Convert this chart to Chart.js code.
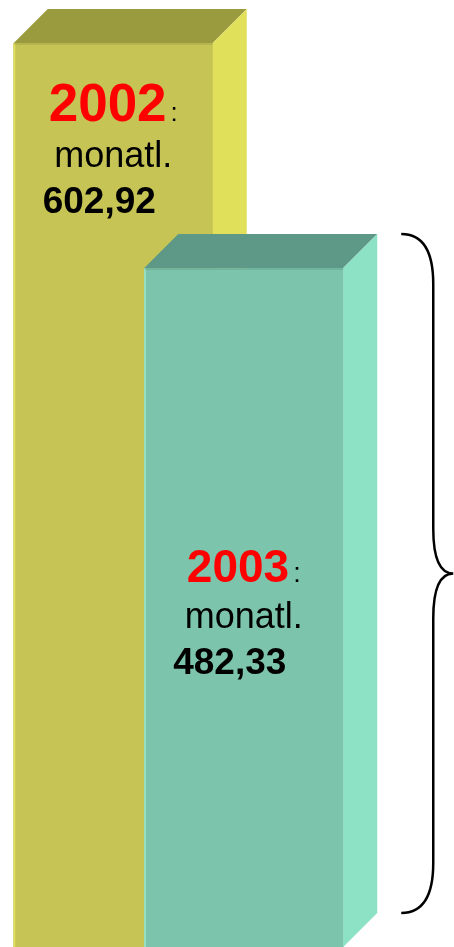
<!DOCTYPE html>
<html>
<head>
<meta charset="utf-8">
<script src="https://cdn.jsdelivr.net/npm/chart.js@4"></script>
<style>
  html, body { margin: 0; padding: 0; background: #ffffff; }
  #wrap { width: 454px; height: 947px; position: relative; }
</style>
</head>
<body>
<div id="wrap"><canvas id="chart"></canvas></div>
<script>
// Monatliche Beträge
const years = ['2002', '2003'];
const monthly = [602.92, 482.33];
const periodLabel = 'monatl.';

// visible value range of the (hidden) y axis
const yMin = 118.5;
const yMax = 626;

// face colours per bar
const frontColors = ['#C6C454', '#7CC5AC'];
const sideColors = ['#E1E05A', '#8DE2C6'];
const topColors = ['#9A9A3F', '#5E9886'];
const edgeColors = ['#E1E05A', '#9FE6CE'];

const fmt = v => v.toFixed(2).replace('.', ',');

// draws the 3D bars (front, top, side), the labels and the brace
const bar3d = {
    id: 'bar3d',
    afterDatasetsDraw(chart, args, opts) {
        const ctx = chart.ctx;
        const meta = chart.getDatasetMeta(0);
        const d = opts.depth;

        meta.data.forEach((bar, i) => {
            const { x, y, width, base } = bar.getProps(['x', 'y', 'width', 'base'], true);
            const l = x - width / 2;
            const r = x + width / 2;

            ctx.save();
            // front
            ctx.fillStyle = frontColors[i];
            ctx.fillRect(l, y, width, base - y);
            // light left edge
            ctx.fillStyle = edgeColors[i];
            ctx.fillRect(l, y, 1.5, base - y);
            // top
            ctx.fillStyle = topColors[i];
            ctx.beginPath();
            ctx.moveTo(l, y);
            ctx.lineTo(l + d, y - d);
            ctx.lineTo(r + d, y - d);
            ctx.lineTo(r, y);
            ctx.closePath();
            ctx.fill();
            // side
            ctx.fillStyle = sideColors[i];
            ctx.beginPath();
            ctx.moveTo(r, y);
            ctx.lineTo(r + d, y - d);
            ctx.lineTo(r + d, base - d);
            ctx.lineTo(r, base);
            ctx.closePath();
            ctx.fill();
            // slight edge between front and top
            ctx.strokeStyle = 'rgba(0,0,0,0.08)';
            ctx.lineWidth = 2;
            ctx.beginPath();
            ctx.moveTo(l, y + 1);
            ctx.lineTo(r, y + 1);
            ctx.stroke();

            // labels
            const mid = opts.anchor[i] === 'top' ? y + opts.offset[i] : (y + base) / 2 + opts.offset[i];
            const gap = opts.lineGap;
            ctx.textBaseline = 'alphabetic';
            ctx.textAlign = 'left';

            // year + colon
            const yearFont = 'bold ' + opts.yearSize[i] + 'px "Liberation Sans", Arial, sans-serif';
            const colonFont = opts.colonSize[i] + 'px "Liberation Sans", Arial, sans-serif';
            ctx.font = yearFont;
            const wYear = ctx.measureText(years[i]).width;
            ctx.font = colonFont;
            const wColon = ctx.measureText(':').width;
            let sx = x - (wYear + 4 + wColon) / 2;
            ctx.font = yearFont;
            ctx.fillStyle = '#FF0000';
            ctx.fillText(years[i], sx, mid - gap);
            ctx.font = colonFont;
            ctx.fillStyle = '#000000';
            ctx.fillText(':', sx + wYear + 4, mid - gap);

            // "monatl."
            ctx.textAlign = 'center';
            ctx.font = '36px "Liberation Sans", Arial, sans-serif';
            ctx.fillText(periodLabel, x, mid);

            // value
            ctx.font = 'bold 37px "Liberation Sans", Arial, sans-serif';
            ctx.fillText(fmt(monthly[i]), x - 14, mid + gap);
            ctx.restore();
        });

        // brace beside the second bar
        const last = meta.data[meta.data.length - 1];
        const p = last.getProps(['x', 'y', 'width', 'base'], true);
        const top = p.y - d;
        const bottom = p.base - d;
        const xl = p.x + p.width / 2 + d + 24;
        const xv = xl + 32;
        const xc = xl + 52;
        const ym = (top + bottom) / 2;
        ctx.save();
        ctx.strokeStyle = '#000000';
        ctx.lineWidth = 2.5;
        ctx.beginPath();
        ctx.moveTo(xl, top);
        ctx.quadraticCurveTo(xv, top, xv, top + 50);
        ctx.lineTo(xv, ym - 45);
        ctx.quadraticCurveTo(xv, ym, xc, ym);
        ctx.quadraticCurveTo(xv, ym, xv, ym + 45);
        ctx.lineTo(xv, bottom - 50);
        ctx.quadraticCurveTo(xv, bottom, xl, bottom);
        ctx.stroke();
        ctx.restore();
    }
};

new Chart(document.getElementById('chart'), {
    type: 'bar',
    data: {
        labels: years,
        datasets: [{
            data: monthly,
            base: yMin,
            backgroundColor: frontColors,
            borderWidth: 0,
            barThickness: 199,
            clip: false
        }]
    },
    options: {
        responsive: true,
        maintainAspectRatio: false,
        animation: false,
        layout: { padding: { left: 48, right: 145, top: 0, bottom: 0 } },
        scales: {
            x: { display: false, grid: { display: false } },
            y: { display: false, min: yMin, max: yMax, grid: { display: false } }
        },
        plugins: {
            legend: { display: false },
            tooltip: { enabled: false },
            bar3d: {
                depth: 34,
                anchor: ['top', 'middle'],
                offset: [124, 20],
                lineGap: 46,
                yearSize: [53, 46],
                colonSize: [26, 27]
            }
        }
    },
    plugins: [bar3d]
});
</script>
</body>
</html>
